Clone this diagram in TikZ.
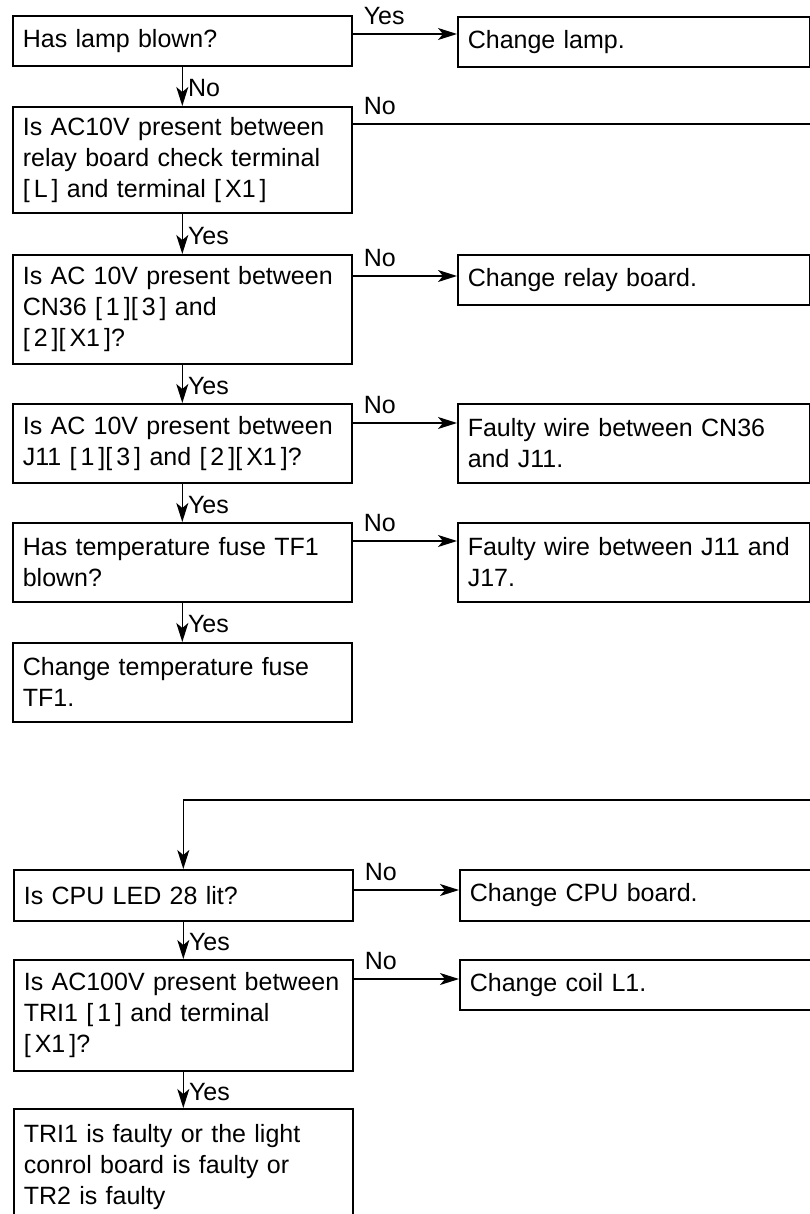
\documentclass[tikz,border=0pt]{standalone}
\usepackage{fontspec}
\setmainfont{Liberation Sans}
\usetikzlibrary{arrows.meta}
\newcommand{\fsz}{\fontsize{25}{31}\selectfont}
\newcommand{\bk}[1]{[\kern4pt#1\kern4pt]}
\begin{document}
\begin{tikzpicture}[x=1pt,y=-1pt,
  base/.style={draw, line width=1.6pt, anchor=north west, inner xsep=10pt, inner ysep=0pt, align=left, font=\fsz},
  lbox/.style={base, text width=319pt},
  rbox/.style={base, text width=332pt},
  arr/.style={line width=1.4pt, -{Stealth[length=19pt,width=12pt,inset=5pt]}},
  ln/.style={line width=1.4pt},
  hlab/.style={anchor=south west, inner sep=0pt, xshift=11pt, yshift=9pt, font=\fsz},
  vlab/.style={pos=0.55, right, inner sep=5pt, font=\fsz}
]
\useasboundingbox (0,0) rectangle (810,1214);
% left column
\node[lbox, minimum height=50pt] (L1) at (12,15) {Has lamp blown?};
\node[lbox, minimum height=106pt] (L2) at (12,106) {Is AC10V present between\\relay board check terminal\\\bk{L} and terminal \bk{X1}};
\node[lbox, minimum height=109pt] (L3) at (12,254) {Is AC 10V present between\\CN36 \bk{1}\bk{3} and\\\bk{2}\bk{X1}?};
\node[lbox, minimum height=79pt] (L4) at (12,403) {Is AC 10V present between\\J11 \bk{1}\bk{3} and \bk{2}\bk{X1}?};
\node[lbox, minimum height=79pt] (L5) at (12,522) {Has temperature fuse TF1\\blown?};
\node[lbox, minimum height=79pt] (L6) at (12,642) {Change temperature fuse\\TF1.};
\node[lbox, minimum height=51pt] (L7) at (13,869) {Is CPU LED 28 lit?};
\node[lbox, minimum height=111pt] (L8) at (13,959) {Is AC100V present between\\TRI1 \bk{1} and terminal\\\bk{X1}?};
\node[lbox, minimum height=116pt] (L9) at (13,1108) {TRI1 is faulty or the light\\conrol board is faulty or\\TR2 is faulty};
% right column
\node[rbox, minimum height=50pt] (R1) at (457,16) {Change lamp.};
\node[rbox, minimum height=50pt] (R3) at (457,254) {Change relay board.};
\node[rbox, minimum height=79pt] (R4) at (457,403) {Faulty wire between CN36\\and J11.};
\node[rbox, minimum height=79pt] (R5) at (457,522) {Faulty wire between J11 and\\J17.};
\node[rbox, minimum height=51pt] (R7) at (459,869) {Change CPU board.};
\node[rbox, minimum height=50pt] (R8) at (459,959) {Change coil L1.};
% off-page connector ends
\coordinate (out) at (810,124);
\coordinate (in) at (810,800);
% horizontal connectors
\draw[arr] ([yshift=-19pt]L1.north east) coordinate (h1) -- (h1 -| R1.west);
\node[hlab] at (h1) {Yes};
\draw[ln] (L2.east |- out) coordinate (h2) -- (out);
\node[hlab] at (h2) {No};
\draw[arr] ([yshift=-22pt]L3.north east) coordinate (h3) -- (h3 -| R3.west);
\node[hlab] at (h3) {No};
\draw[arr] ([yshift=-20pt]L4.north east) coordinate (h4) -- (h4 -| R4.west);
\node[hlab] at (h4) {No};
\draw[arr] ([yshift=-19pt]L5.north east) coordinate (h5) -- (h5 -| R5.west);
\node[hlab] at (h5) {No};
\draw[arr] ([yshift=-21pt]L7.north east) coordinate (h7) -- (h7 -| R7.west);
\node[hlab] at (h7) {No};
\draw[arr] ([yshift=-20pt]L8.north east) coordinate (h8) -- (h8 -| R8.west);
\node[hlab] at (h8) {No};
% vertical connectors
\draw[arr] (L1) -- (L2) node[vlab] {No};
\draw[arr] (L2) -- (L3) node[vlab] {Yes};
\draw[arr] (L3) -- (L4) node[vlab] {Yes};
\draw[arr] (L4) -- (L5) node[vlab] {Yes};
\draw[arr] (L5) -- (L6) node[vlab] {Yes};
\draw[arr] (L7) -- (L8) node[vlab] {Yes};
\draw[arr] (L8) -- (L9) node[vlab] {Yes};
\draw[arr] (in) -| (L7.north);
\end{tikzpicture}
\end{document}
